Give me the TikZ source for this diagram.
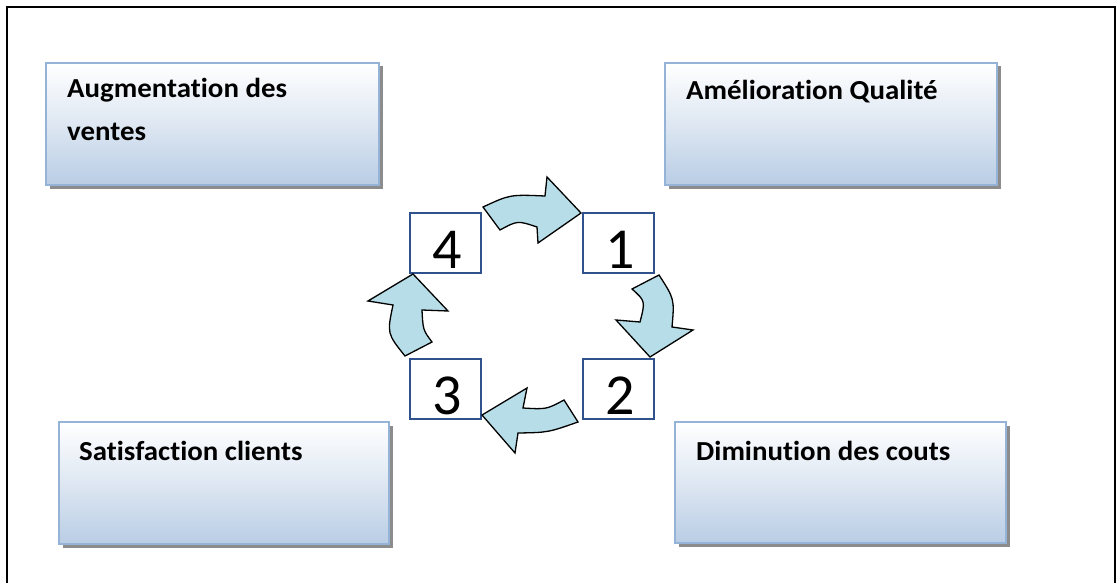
\documentclass[tikz,border=0pt]{standalone}
\usepackage{fontspec}
\setmainfont{Carlito}[Ligatures=NoCommon]
\usetikzlibrary{shadows}
\definecolor{boxedge}{RGB}{149,179,215}
\definecolor{boxfill}{RGB}{185,205,229}
\definecolor{boxmid}{RGB}{222,231,242}
\definecolor{stepedge}{RGB}{47,82,143}
\definecolor{arrowfill}{RGB}{183,222,232}
\newcommand{\stretchtext}[1]{\scalebox{1.05}[1]{#1}}
\tikzset{
  bigbox/.style={draw=boxedge, line width=2pt, rectangle,
    top color=white, bottom color=boxfill, middle color=boxmid,
    drop shadow={shadow xshift=3.5pt, shadow yshift=-3.5pt, fill=black!45, opacity=1}},
  boxtext/.style={anchor=base west, inner sep=0pt,
    font=\fontsize{27.5}{33}\selectfont\bfseries},
  stepbox/.style={draw=stepedge, line width=2pt, fill=white, rectangle,
    minimum width=71pt, minimum height=60pt, inner sep=0pt},
  stepnum/.style={anchor=base, inner sep=0pt, font=\fontsize{58}{60}\selectfont},
  cyclearrow/.style={fill=arrowfill, draw=black, line width=1.3pt, line join=miter},
  frameline/.style={draw=black, line width=2pt}
}
\begin{document}
\begin{tikzpicture}[x=1pt, y=-1pt]
\useasboundingbox (0,0) rectangle (1118,583);
% outer frame
\draw[frameline] (7,583) -- (7,7) -- (1115,7) -- (1115,583);

% the four result boxes
\node[bigbox, minimum width=333pt, minimum height=122pt] (ventes) at (212.5,124) {};
\node[bigbox, minimum width=332pt, minimum height=122pt] (qualite) at (831,124) {};
\node[bigbox, minimum width=330pt, minimum height=122pt] (clients) at (224,483) {};
\node[bigbox, minimum width=331pt, minimum height=121pt] (couts) at (840.5,482.5) {};

\node[boxtext] (tventes1) at (67,98) {\stretchtext{Augmentation des}};
\node[boxtext] (tventes2) at (67,140) {\stretchtext{ventes}};
\node[boxtext] (tqualite) at (686,100) {\stretchtext{Amélioration Qualité}};
\node[boxtext] (tclients) at (79,460) {\stretchtext{Satisfaction clients}};
\node[boxtext] (tcouts) at (696,460) {\stretchtext{Diminution des couts}};

% the numbered steps
\node[stepbox] (s4) at (445,242.5) {};
\node[stepbox] (s1) at (618,242.5) {};
\node[stepbox] (s3) at (445,388.5) {};
\node[stepbox] (s2) at (618,388.5) {};
\node[stepnum] (n4) at (447,268) {4};
\node[stepnum] (n1) at (620,268) {1};
\node[stepnum] (n3) at (447,414) {3};
\node[stepnum] (n2) at (620,414) {2};

% curved arrows of the cycle
\draw[cyclearrow] (483,207) .. controls (510,194.5) .. (545,196) -- (547,177)
  -- (581,213) -- (538,243) -- (537,227) .. controls (517.5,220.5) .. (500,230) -- cycle;
\draw[cyclearrow] (659,275) .. controls (674.5,299) .. (672,327) -- (693,330)
  -- (650,357) -- (616,320) -- (640,322) .. controls (645.4,301) .. (632,289) -- cycle;
\draw[cyclearrow] (578,422) .. controls (548,432.5) .. (518,433) -- (515,453)
  -- (482,415) -- (527,388) -- (523,408) .. controls (546.5,409.4) .. (564,400) -- cycle;
\draw[cyclearrow] (405,356) .. controls (387,333.5) .. (393,305) -- (368,301)
  -- (413,274) -- (448,311) -- (422,310) .. controls (423,330) .. (432,342) -- cycle;
\end{tikzpicture}
\end{document}
